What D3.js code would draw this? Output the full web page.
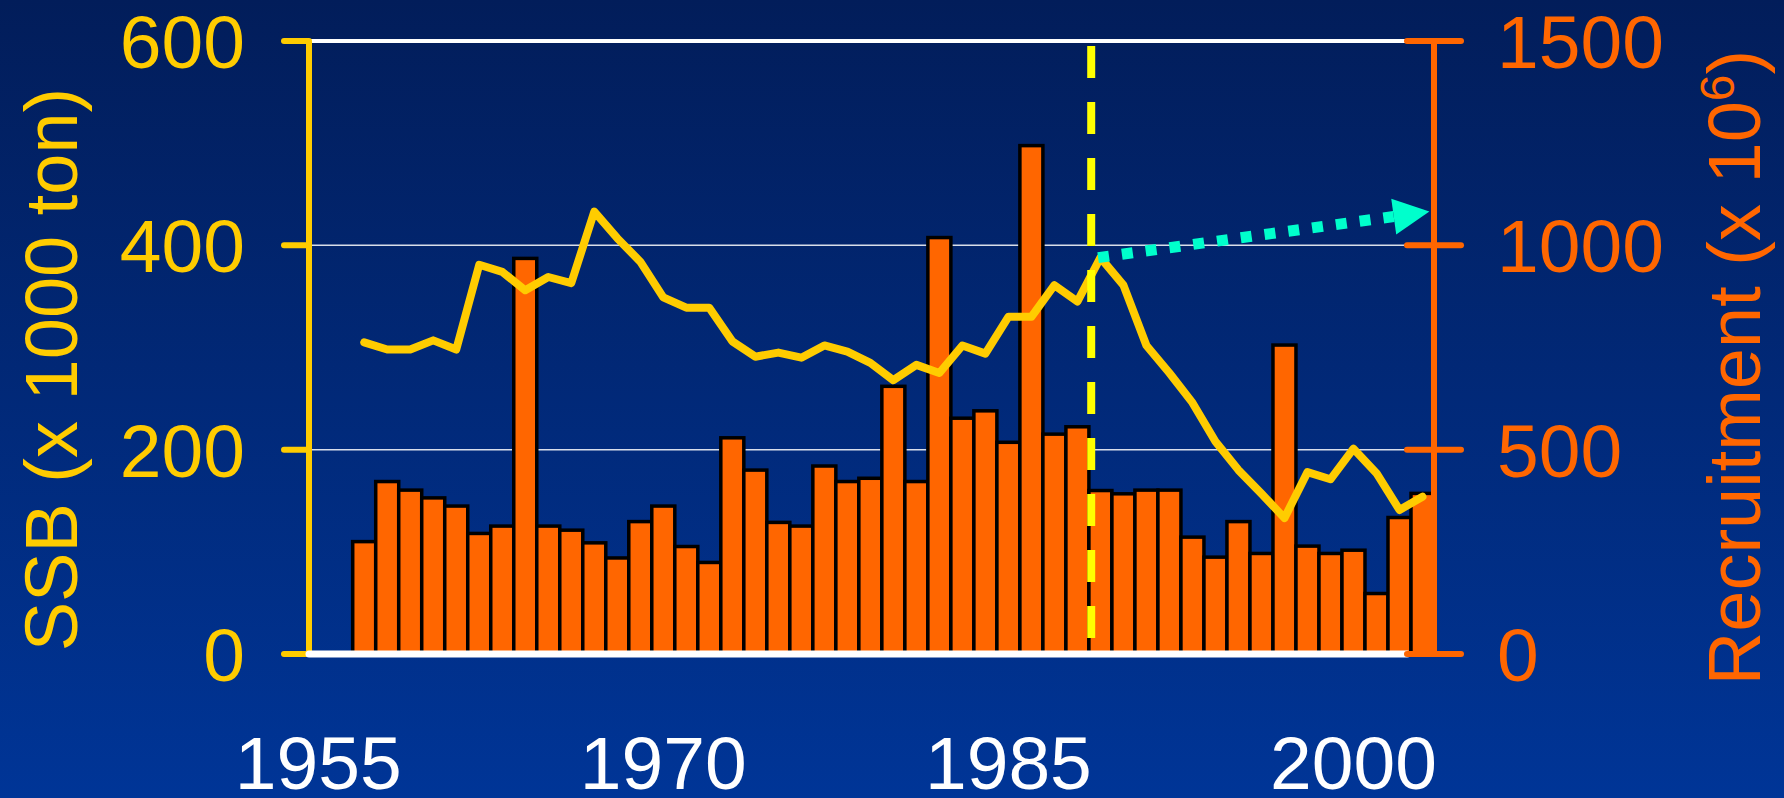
<!DOCTYPE html>
<html>
<head>
<meta charset="utf-8">
<script src="https://cdn.jsdelivr.net/npm/d3@7"></script>
<style>
  html, body { margin: 0; padding: 0; background: #012a78; }
  svg { display: block; }
  text { font-family: "Liberation Sans", Arial, sans-serif; }
</style>
</head>
<body>
<div id="chart"></div>
<script>
// years on the x axis (one bar per year)
var years = [1957,1958,1959,1960,1961,1962,1963,1964,1965,1966,1967,1968,1969,1970,1971,1972,
  1973,1974,1975,1976,1977,1978,1979,1980,1981,1982,1983,1984,1985,1986,1987,1988,1989,1990,
  1991,1992,1993,1994,1995,1996,1997,1998,1999,2000,2001,2002,2003];

// spawning stock biomass, 1000 ton (left axis)
var ssb = [305,298,298,307,298,381,374,356,369,363,433,407,384,349,339,339,
  306,291,295,290,302,296,285,268,283,275,302,294,330,330,361,345,388,361,
  302,275,246,208,180,157,133,178,171,201,177,141,154];

// recruitment, millions (right axis)
var recruitment = [275,422,401,382,362,295,313,968,313,303,272,235,324,362,263,224,
  529,450,322,313,460,422,430,655,422,1019,577,595,518,1244,538,556,400,392,
  401,401,286,237,324,246,756,264,246,254,148,334,393];

var xTickYears = [1955, 1970, 1985, 2000];
var ssbTicks = [0, 200, 400, 600];
var recTicks = [0, 500, 1000, 1500];

// regime shift marker and trend arrow (in data units)
var shiftYear = 1988.6;
var arrowFrom = {year: 1988.9, ssb: 388};
var arrowTo = {year: 2003.3, ssb: 433};

var W = 1784, H = 798;
var margin = {left: 309, right: 350, top: 41, bottom: 144};

var svg = d3.select("#chart").append("svg")
    .attr("width", W)
    .attr("height", H);

var defs = svg.append("defs");
var grad = defs.append("linearGradient")
    .attr("id", "bg").attr("x1", 0).attr("y1", 0).attr("x2", 0).attr("y2", 1);
grad.append("stop").attr("offset", "0%").attr("stop-color", "#021d5a");
grad.append("stop").attr("offset", "100%").attr("stop-color", "#003597");
svg.append("rect").attr("width", W).attr("height", H).attr("fill", "url(#bg)");

var x = d3.scaleLinear()
    .domain([1954.6, 2003.5])
    .range([margin.left, W - margin.right]);

var ySsb = d3.scaleLinear()
    .domain([0, 600])
    .range([H - margin.bottom, margin.top]);

var yRec = d3.scaleLinear()
    .domain([0, 1500])
    .range([H - margin.bottom, margin.top]);

var x0 = x.range()[0], x1 = x.range()[1];

// grid lines
svg.append("g")
  .selectAll("line")
  .data(ssbTicks.filter(function (d) { return d > 0; }))
  .join("line")
    .attr("x1", x0).attr("x2", x1)
    .attr("y1", function (d) { return ySsb(d); })
    .attr("y2", function (d) { return ySsb(d); })
    .attr("stroke", "#ffffff")
    .attr("stroke-opacity", function (d) { return d == 600 ? 1 : 0.85; })
    .attr("stroke-width", function (d) { return d == 600 ? 4 : 1.5; });

// recruitment bars
svg.append("g")
  .selectAll("rect")
  .data(years)
  .join("rect")
    .attr("x", function (d) { return x(d - 0.5); })
    .attr("width", function (d) { return x(d + 0.5) - x(d - 0.5); })
    .attr("y", function (d, i) { return yRec(recruitment[i]); })
    .attr("height", function (d, i) { return yRec(0) - yRec(recruitment[i]); })
    .attr("fill", "#ff6600")
    .attr("stroke", "#000000")
    .attr("stroke-width", 3.5);

// ssb line
var line = d3.line()
    .x(function (d) { return x(d[0]); })
    .y(function (d) { return ySsb(d[1]); });

svg.append("path")
    .datum(years.map(function (d, i) { return [d, ssb[i]]; }))
    .attr("d", line)
    .attr("fill", "none")
    .attr("stroke", "#ffcc00")
    .attr("stroke-width", 8)
    .attr("stroke-linejoin", "round")
    .attr("stroke-linecap", "round");

// dashed vertical line
svg.append("line")
    .attr("x1", x(shiftYear)).attr("x2", x(shiftYear))
    .attr("y1", ySsb(600) + 5).attr("y2", ySsb(0) - 12)
    .attr("stroke", "#ffff00")
    .attr("stroke-width", 8)
    .attr("stroke-dasharray", "32,24");

// left axis (yellow)
var left = svg.append("g");
left.append("line")
    .attr("x1", x0).attr("x2", x0)
    .attr("y1", ySsb(600)).attr("y2", ySsb(0))
    .attr("stroke", "#ffcc00").attr("stroke-width", 6);
left.selectAll(".tick")
  .data(ssbTicks)
  .join("line")
    .attr("x1", x0 - 25).attr("x2", x0)
    .attr("y1", function (d) { return ySsb(d); })
    .attr("y2", function (d) { return ySsb(d); })
    .attr("stroke", "#ffcc00").attr("stroke-width", 6)
    .attr("stroke-linecap", "round");
left.selectAll("text")
  .data(ssbTicks)
  .join("text")
    .attr("x", x0 - 64)
    .attr("y", function (d) { return ySsb(d); })
    .attr("dy", "0.36em")
    .attr("text-anchor", "end")
    .attr("fill", "#ffcc00")
    .attr("font-size", 75)
    .text(function (d) { return d; });

svg.append("text")
    .attr("transform", "translate(77," + (ySsb(300) + 22) + ") rotate(-90)")
    .attr("text-anchor", "middle")
    .attr("fill", "#ffcc00")
    .attr("font-size", 74)
    .text("SSB (x 1000 ton)");

// white x axis baseline
svg.append("line")
    .attr("x1", x0).attr("x2", x1 - 27)
    .attr("y1", ySsb(0)).attr("y2", ySsb(0))
    .attr("stroke", "#ffffff").attr("stroke-width", 7)
    .attr("stroke-linecap", "round");

// right axis (orange)
var right = svg.append("g");
right.append("line")
    .attr("x1", x1).attr("x2", x1)
    .attr("y1", yRec(1500)).attr("y2", yRec(0))
    .attr("stroke", "#ff6600").attr("stroke-width", 6);
right.selectAll(".tick")
  .data(recTicks)
  .join("line")
    .attr("x1", x1 - 27).attr("x2", x1 + 27)
    .attr("y1", function (d) { return yRec(d); })
    .attr("y2", function (d) { return yRec(d); })
    .attr("stroke", "#ff6600").attr("stroke-width", 6)
    .attr("stroke-linecap", "round");
right.selectAll("text")
  .data(recTicks)
  .join("text")
    .attr("x", x1 + 63)
    .attr("y", function (d) { return yRec(d); })
    .attr("dy", "0.36em")
    .attr("fill", "#ff6600")
    .attr("font-size", 75)
    .text(function (d) { return d; });

var rTitle = svg.append("text")
    .attr("transform", "translate(1760," + (yRec(750) + 20) + ") rotate(-90)")
    .attr("text-anchor", "middle")
    .attr("fill", "#ff6600")
    .attr("font-size", 74);
rTitle.append("tspan").text("Recruitment (x 10");
rTitle.append("tspan").attr("font-size", 48).attr("dy", -26).text("6");
rTitle.append("tspan").attr("dy", 26).text(")");

// x labels
svg.append("g")
  .selectAll("text")
  .data(xTickYears)
  .join("text")
    .attr("x", function (d) { return x(d); })
    .attr("y", 789)
    .attr("text-anchor", "middle")
    .attr("fill", "#ffffff")
    .attr("font-size", 75)
    .text(function (d) { return d; });

// dotted trend arrow
var ax0 = x(arrowFrom.year), ay0 = ySsb(arrowFrom.ssb);
var ax1 = x(arrowTo.year), ay1 = ySsb(arrowTo.ssb);
var len = Math.hypot(ax1 - ax0, ay1 - ay0);
var ux = (ax1 - ax0) / len, uy = (ay1 - ay0) / len;
var headLen = 36, headHalf = 18;
var bx = ax1 - ux * headLen, by = ay1 - uy * headLen;

svg.append("line")
    .attr("x1", ax0).attr("y1", ay0)
    .attr("x2", bx).attr("y2", by)
    .attr("stroke", "#00ffcc")
    .attr("stroke-width", 11)
    .attr("stroke-dasharray", "11,13");

svg.append("path")
    .attr("d", "M" + ax1 + "," + ay1 +
      "L" + (bx - uy * headHalf) + "," + (by + ux * headHalf) +
      "L" + (bx + uy * headHalf) + "," + (by - ux * headHalf) + "Z")
    .attr("fill", "#00ffcc");
</script>
</body>
</html>
